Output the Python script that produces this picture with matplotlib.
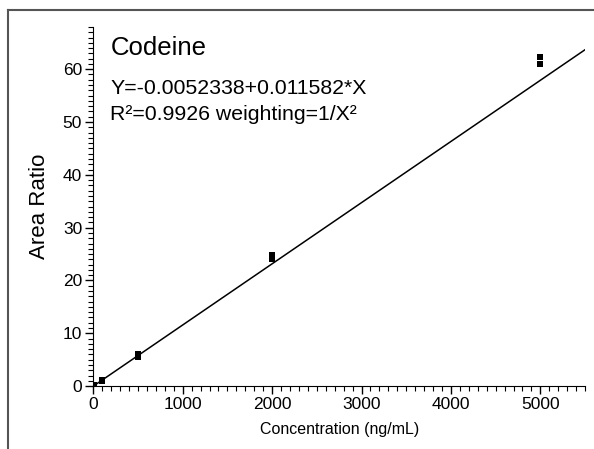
import matplotlib
matplotlib.use("Agg")
from matplotlib import pyplot as plt
from matplotlib.ticker import MultipleLocator
from matplotlib.lines import Line2D
import numpy as np

plt.rcParams['font.family'] = ['Liberation Sans', 'DejaVu Sans']

# calibration data (two replicates per level)
conc = [10, 10, 100, 100, 500, 500, 2000, 2000, 5000, 5000]
ratio = [0.1, 0.15, 1.0, 1.15, 5.6, 6.1, 24.0, 24.8, 61.0, 62.3]

# fitted curve
intercept = -0.0052338
slope = 0.011582
x_range = [0, 5500]

fig = plt.figure(figsize=(5.94, 4.49), dpi=100)
ax = fig.add_axes([0.157, 0.140, 0.828, 0.800])

xf = np.array(x_range)
ax.plot(xf, intercept + slope * xf, color="black", lw=1.1)
ax.plot(conc, ratio, "s", color="black", ms=3.8, mew=0)

ax.set_xlim(0, 5500)
ax.set_ylim(0, 68)
ax.xaxis.set_major_locator(MultipleLocator(1000))
ax.xaxis.set_minor_locator(MultipleLocator(100))
ax.yaxis.set_major_locator(MultipleLocator(10))
ax.yaxis.set_minor_locator(MultipleLocator(1))
ax.tick_params(which="major", length=6, width=1, labelsize=12.5, pad=2)
ax.tick_params(which="minor", length=3.5, width=0.8)
ax.spines["top"].set_visible(False)
ax.spines["right"].set_visible(False)

ax.set_xlabel("Concentration (ng/mL)", fontsize=11.5, labelpad=7)
ax.set_ylabel("Area Ratio", fontsize=16, labelpad=9)

ax.text(0.035, 0.922, "Codeine", transform=ax.transAxes, fontsize=18.5, va="baseline")
ax.text(0.035, 0.8135, "Y=-0.0052338+0.011582*X", transform=ax.transAxes,
        fontsize=15.3, va="baseline")
ax.text(0.035, 0.741, "R²=0.9926 weighting=1/X²", transform=ax.transAxes,
        fontsize=15.3, va="baseline")

# frame around the figure (top and left edges visible)
fig.add_artist(Line2D([8 / 594, 1], [1 - 10 / 449, 1 - 10 / 449],
                      transform=fig.transFigure, color="#555555", lw=1.5))
fig.add_artist(Line2D([8 / 594, 8 / 594], [0, 1 - 10 / 449],
                      transform=fig.transFigure, color="#555555", lw=1.5))

fig.savefig("out.png", dpi=100)
